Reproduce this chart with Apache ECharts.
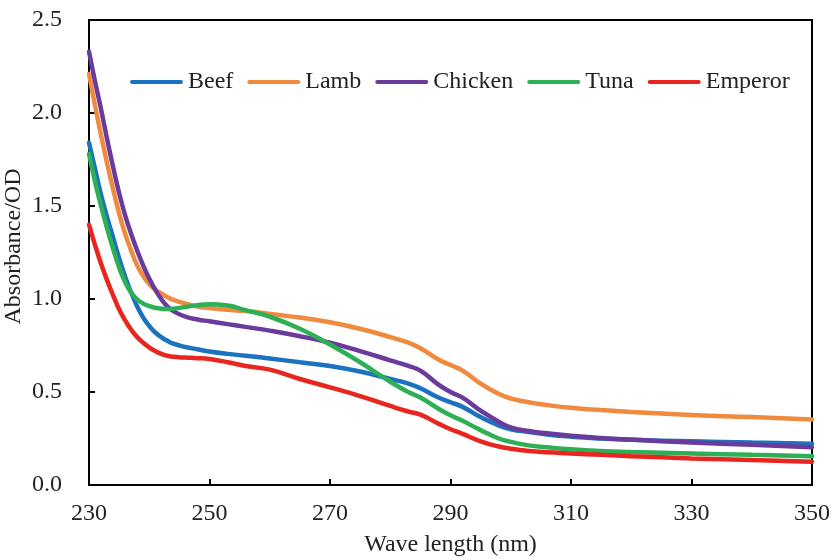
<!DOCTYPE html>
<html><head><meta charset="utf-8">
<script src="https://cdn.jsdelivr.net/npm/echarts@6/dist/echarts.min.js"></script>
<style>html,body{margin:0;padding:0;background:#fff}#c{width:832px;height:559px}</style>
</head><body><div id="c"></div>
<script>
const wavelength = [230,231,232,233,234,235,236,237,238,239,240,241,242,243,244,246,248,250,253,256,260,265,270,275,280,283,285,288,290,292,295,298,300,303,306,310,315,320,330,340,350];
const beef    = [1.84,1.70,1.56,1.44,1.33,1.22,1.12,1.035,0.96,0.90,0.855,0.82,0.795,0.775,0.76,0.742,0.73,0.718,0.705,0.695,0.68,0.66,0.64,0.61,0.57,0.545,0.52,0.47,0.445,0.42,0.365,0.32,0.30,0.285,0.272,0.26,0.25,0.243,0.235,0.228,0.222];
const lamb    = [2.21,2.04,1.88,1.73,1.59,1.46,1.35,1.26,1.18,1.125,1.08,1.05,1.03,1.01,0.995,0.975,0.96,0.952,0.942,0.935,0.92,0.90,0.875,0.84,0.795,0.765,0.735,0.675,0.645,0.615,0.545,0.49,0.465,0.445,0.43,0.415,0.403,0.393,0.376,0.365,0.352];
const chicken = [2.33,2.17,2.02,1.86,1.71,1.57,1.45,1.35,1.26,1.18,1.11,1.05,1.00,0.96,0.935,0.905,0.89,0.88,0.865,0.85,0.83,0.80,0.765,0.72,0.67,0.64,0.615,0.54,0.50,0.47,0.40,0.34,0.31,0.29,0.278,0.265,0.253,0.244,0.228,0.216,0.203];
const tuna    = [1.78,1.63,1.50,1.38,1.27,1.17,1.09,1.035,0.998,0.975,0.962,0.953,0.948,0.946,0.948,0.957,0.967,0.972,0.965,0.94,0.905,0.84,0.755,0.66,0.555,0.50,0.47,0.41,0.375,0.345,0.295,0.25,0.232,0.213,0.203,0.192,0.183,0.178,0.17,0.162,0.155];
const emperor = [1.40,1.29,1.19,1.10,1.02,0.945,0.885,0.835,0.795,0.765,0.74,0.72,0.705,0.695,0.689,0.685,0.682,0.677,0.66,0.64,0.62,0.57,0.525,0.478,0.425,0.395,0.378,0.33,0.30,0.275,0.235,0.207,0.195,0.183,0.176,0.17,0.162,0.155,0.143,0.134,0.125];
const seriesNames = ['Beef','Lamb','Chicken','Tuna','Emperor'];
const seriesValues = [beef, lamb, chicken, tuna, emperor];
const colors = ['#1B72BE','#F08A3E','#6A3A9C','#2DB055','#E8261F'];

const chart = echarts.init(document.getElementById('c'), null, {renderer:'canvas'});
const font = 'Liberation Serif';
chart.setOption({
  animation:false,
  color: colors,
  grid:{left:89,right:20,top:20,bottom:74,outerBoundsMode:'none',containLabel:false,show:true,borderColor:'#000',borderWidth:2,backgroundColor:'transparent'},
  legend:{
    top:70,left:130,padding:0,itemGap:14,itemWidth:53,itemHeight:14,
    icon:'path://M2,5 L51,5 A2,2 0 0 1 51,9 L2,9 A2,2 0 0 1 2,5 Z',
    textStyle:{fontFamily:font,fontSize:24,color:'#222'},
    data:seriesNames
  },
  xAxis:{
    type:'value',min:230,max:350,interval:20,
    name:'Wave length (nm)',nameLocation:'middle',nameGap:48,nameMoveOverlap:false,
    nameTextStyle:{fontFamily:font,fontSize:24,color:'#222'},
    axisLine:{lineStyle:{color:'#000',width:2}},
    axisTick:{inside:true,length:6,lineStyle:{color:'#000',width:2}},
    axisLabel:{fontFamily:font,fontSize:24,color:'#222',margin:17},
    splitLine:{show:false}
  },
  yAxis:{
    type:'value',min:0,max:2.5,interval:0.5,
    name:'Absorbance/OD',nameLocation:'middle',nameGap:63,nameMoveOverlap:false,
    nameTextStyle:{fontFamily:font,fontSize:24,color:'#222',padding:[0,0,0,12]},
    axisLine:{show:true,lineStyle:{color:'#000',width:2}},
    axisTick:{show:true,inside:true,length:6,lineStyle:{color:'#000',width:2}},
    axisLabel:{fontFamily:font,fontSize:24,color:'#222',margin:27,formatter:v=>v.toFixed(1)},
    splitLine:{show:false}
  },
  series: seriesNames.map((n,i)=>({
    name:n,type:'line',smooth:0.5,showSymbol:false,symbol:'none',
    lineStyle:{width:4.5,color:colors[i],cap:'round'},
    itemStyle:{color:colors[i]},
    data: wavelength.map((w,k)=>[w, seriesValues[i][k]])
  }))
});
</script></body></html>
